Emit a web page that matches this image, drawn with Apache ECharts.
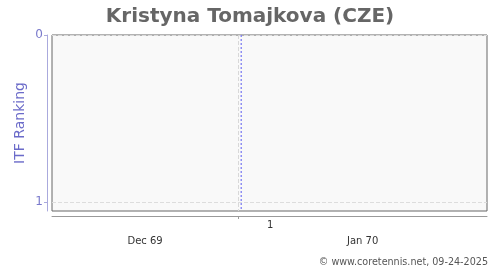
<!DOCTYPE html>
<html><head><meta charset="utf-8">
<script src="https://cdn.jsdelivr.net/npm/echarts@6/dist/echarts.min.js"></script>
<style>html,body{margin:0;padding:0;background:#fff}#c{width:500px;height:270px}</style>
</head><body><div id="c"></div>
<script>
// Data (x values are days relative to 1 Jan 1970)
const titleText = 'Kristyna Tomajkova (CZE)';
const rankTicks = [0, 1];
const rankValues = []; // no ranking points visible
const xRange = [-23.2, 31];
const dayTicks = [0];
const dayLabelPos = [4];
const dayLabels = ['1'];
const monthMid = [-11.6, 15.5];
const monthLabels = ['Dec 69', 'Jan 70'];
const markerDay = 0.37;
const yMax = 1.054;

const F = 'DejaVu Sans';
const chart = echarts.init(document.getElementById('c'), null, {renderer: 'canvas'});
chart.setOption({
  animation: false,
  title: {text: titleText, left: 'center', top: 2,
    textStyle: {fontFamily: F, fontSize: 20, fontWeight: 'bold', color: '#666'}},
  graphic: [{type: 'text', right: 12, bottom: 3,
    style: {text: '\u00A9 www.coretennis.net, 09-24-2025', font: '9.6px "DejaVu Sans"', fill: '#555'}}],
  grid: {left: 52, right: 13, top: 35, bottom: 59, show: true,
    backgroundColor: '#f9f9f9', borderColor: '#666', borderWidth: 1},
  xAxis: [
    {type: 'value', min: xRange[0], max: xRange[1], position: 'bottom', offset: 5,
      axisLine: {show: true, onZero: false, lineStyle: {color: '#999'}},
      axisTick: {show: true, customValues: dayTicks, length: 3, lineStyle: {color: '#999'}},
      axisLabel: {customValues: dayLabelPos, margin: 4, fontFamily: F, fontSize: 10, color: '#333',
        formatter: v => dayLabels[dayLabelPos.indexOf(v)] ?? ''},
      splitLine: {show: true, lineStyle: {color: '#d8d8d8', type: 'dashed'}}},
    {type: 'value', min: xRange[0], max: xRange[1], position: 'bottom', offset: 5,
      axisLine: {show: false, onZero: false}, axisTick: {show: false},
      axisLabel: {customValues: monthMid, margin: 20, fontFamily: F, fontSize: 10, color: '#333',
        formatter: v => monthLabels[monthMid.indexOf(v)] ?? ''},
      splitLine: {show: false}}
  ],
  yAxis: {type: 'value', inverse: true, min: 0, max: yMax, interval: 1, offset: 5, position: 'left',
    name: 'ITF Ranking', nameLocation: 'middle', nameGap: 20, nameMoveOverlap: false,
    nameTextStyle: {fontFamily: F, fontSize: 14, color: '#6b6bc9'},
    axisLine: {show: true, onZero: false, lineStyle: {color: '#aaaadd'}},
    axisTick: {show: true, customValues: rankTicks, length: 3, lineStyle: {color: '#aaaadd'}},
    axisLabel: {customValues: rankTicks, margin: 4, fontFamily: F, fontSize: 12, color: '#7a7acc'},
    splitLine: {show: true, lineStyle: {color: '#ddd', type: 'dashed'}}},
  series: [
    {type: 'line', xAxisIndex: 0, data: rankValues, symbol: 'none'},
    {type: 'line', xAxisIndex: 0, data: [[markerDay, 0], [markerDay, yMax]], symbol: 'none',
      silent: true, lineStyle: {color: '#5a5af0', type: [2, 2], width: 1}}
  ]
});
</script></body></html>
